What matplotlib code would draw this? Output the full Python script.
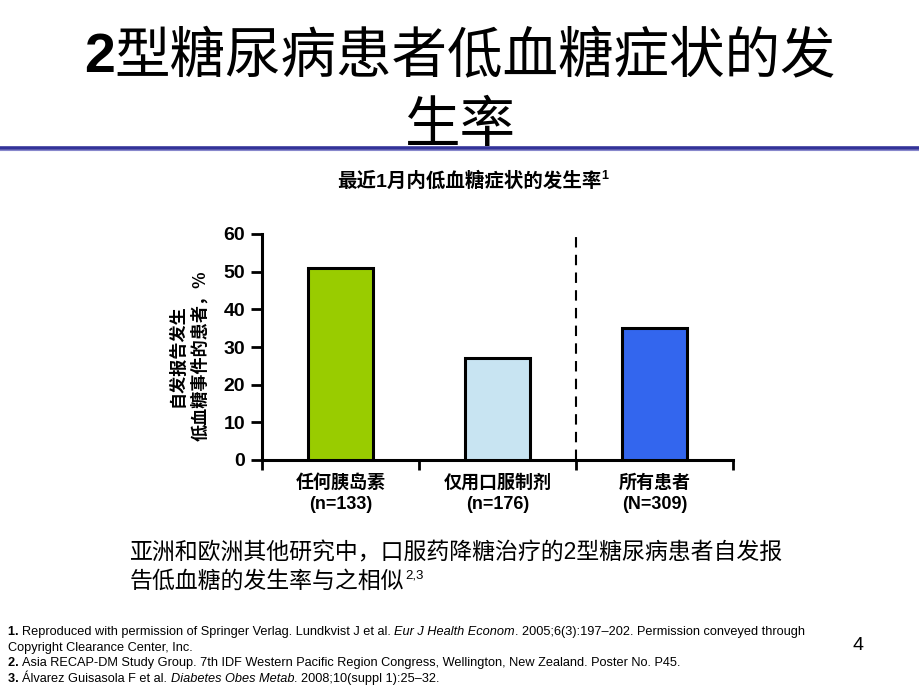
import matplotlib
matplotlib.use("Agg")
import matplotlib.pyplot as plt
from matplotlib.lines import Line2D

plt.rcParams['font.family'] = ['Noto Sans CJK SC', 'DejaVu Sans']
MIX = ['Liberation Sans', 'Noto Sans CJK SC', 'DejaVu Sans']

# chart data
groups = ["任何胰岛素", "仅用口服制剂", "所有患者"]
group_n = ["(n=133)", "(n=176)", "(N=309)"]
rates = [51, 27, 35]
bar_colors = ["#99cc00", "#c8e4f2", "#3366ee"]
y_ticks = [0, 10, 20, 30, 40, 50, 60]

title_lines = ["型糖尿病患者低血糖症状的发", "生率"]
chart_title = "最近1月内低血糖症状的发生率"
y_label = "自发报告发生\n低血糖事件的患者，%"
body_lines = ["亚洲和欧洲其他研究中，口服药降糖治疗的2型糖尿病患者自发报",
              "告低血糖的发生率与之相似"]
footnotes = [
    [("1. ", "bold"), ("Reproduced with permission of Springer Verlag. Lundkvist J et al. ", "normal"),
     ("Eur J Health Econom", "italic"), (". 2005;6(3):197–202. Permission conveyed through", "normal")],
    [("Copyright Clearance Center, Inc.", "normal")],
    [("2. ", "bold"), ("Asia RECAP-DM Study Group. 7th IDF Western Pacific Region Congress, Wellington, New Zealand. Poster No. P45.", "normal")],
    [("3. ", "bold"), ("Álvarez Guisasola F et al. ", "normal"), ("Diabetes Obes Metab", "italic"),
     (". 2008;10(suppl 1):25–32.", "normal")],
]

fig = plt.figure(figsize=(9.2, 6.9), dpi=100)
W, H = 920, 690

def fx(px):
    return px / W

def fy(py):
    return 1 - py / H

fig.canvas.draw()
renderer = fig.canvas.get_renderer()

def after(t):
    bb = t.get_window_extent(renderer)
    return bb.x1 / W

# slide title: bold "2" then the light CJK text, centred as a block
t2 = fig.text(0, fy(58), "2", ha="left", va="center", fontsize=40, fontweight="bold",
              family=['Liberation Sans'])
tt = fig.text(0, fy(58), title_lines[0], ha="left", va="center", fontsize=40,
              fontweight="light")
w2 = t2.get_window_extent(renderer).width
wt = tt.get_window_extent(renderer).width
x0 = 460 - (w2 + wt) / 2
t2.set_x(fx(x0))
tt.set_x(fx(x0 + w2))
fig.text(fx(460), fy(126), title_lines[1], ha="center", va="center", fontsize=40,
         fontweight="light", color="black")

# blue rule under the title
fig.add_artist(Line2D([0, 1], [fy(147.5), fy(147.5)], color="#333399", lw=2.6))
fig.add_artist(Line2D([0, 1], [fy(149.8), fy(149.8)], color="#8888cc", lw=0.8))

# bar chart
ax = fig.add_axes([fx(262), fy(460), fx(733) - fx(262), (460 - 234) / H])
pos = [i + 0.5 for i in range(len(rates))]
ax.bar(pos, rates, width=0.41, color=bar_colors, edgecolor="black", linewidth=2.2, zorder=3)
ax.set_xlim(0, 3)
ax.set_ylim(0, 60)
ax.set_yticks(y_ticks)
ax.set_yticklabels([str(t) for t in y_ticks], fontsize=14, fontweight="bold",
                   family=['Liberation Sans', 'DejaVu Sans'])
ax.tick_params(axis="y", direction="out", length=8, width=2, pad=4)
ax.set_xticks(pos)
ax.set_xticklabels([g + "\n" + n for g, n in zip(groups, group_n)], fontsize=13,
                   fontweight="bold", linespacing=1.35, family=MIX)
ax.tick_params(axis="x", which="major", length=0, pad=10)
ax.set_xticks([0, 1, 2, 3], minor=True)
ax.tick_params(axis="x", which="minor", direction="out", length=7, width=2)
for side in ["top", "right"]:
    ax.spines[side].set_visible(False)
ax.spines["left"].set_linewidth(2.2)
ax.spines["bottom"].set_linewidth(2.2)
ax.vlines(2, 0, 60, colors="black", linestyles=(0, (5, 3.5)), lw=1.5, clip_on=False, zorder=2)

fig.text(fx(189), fy(356), y_label, rotation=90, ha="center", va="center",
         fontsize=12.3, fontweight="bold", linespacing=1.3, multialignment="center")

# chart title with superscript
t = fig.text(fx(337), fy(181), chart_title, ha="left", va="center", fontsize=14,
             fontweight="bold", family=MIX)
fig.text(after(t), fy(176), "1", ha="left", va="center", fontsize=9, fontweight="bold",
         family=['Liberation Sans'])

# body text
fig.text(fx(130), fy(553), body_lines[0], ha="left", va="center", fontsize=16.5, family=MIX)
t = fig.text(fx(130), fy(581), body_lines[1], ha="left", va="center", fontsize=16.5, family=MIX)
fig.text(after(t) + 0.001, fy(576), "2,3", ha="left", va="center", fontsize=9.5,
         family=['Liberation Sans'])

# footnotes
foot_family = ['Liberation Sans', 'DejaVu Sans']
foot_y = [632, 648, 663, 679]
for parts, yy in zip(footnotes, foot_y):
    x = fx(8)
    for text, style in parts:
        kw = {"fontweight": "bold"} if style == "bold" else {}
        if style == "italic":
            kw["fontstyle"] = "italic"
        t = fig.text(x, fy(yy), text, ha="left", va="center", fontsize=9.2,
                     family=foot_family, **kw)
        x = after(t)

fig.text(fx(858), fy(645), "4", ha="center", va="center", fontsize=14,
         family=['Liberation Sans'])

fig.savefig("out.png", dpi=100, facecolor="white")
